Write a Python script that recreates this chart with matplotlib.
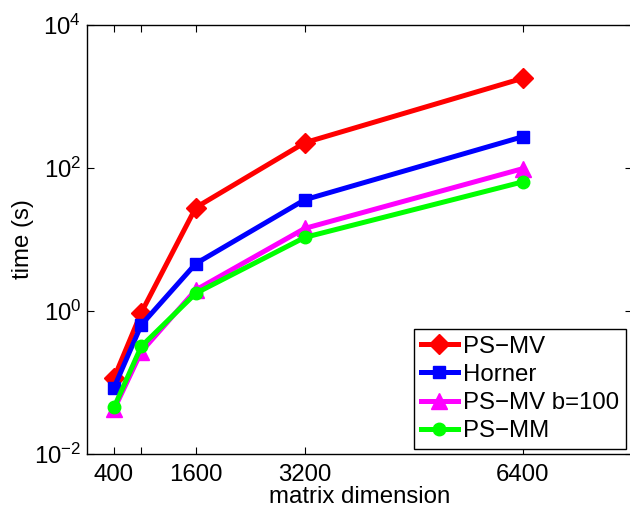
import matplotlib
matplotlib.use("Agg")
import matplotlib.pyplot as plt
from matplotlib.ticker import FixedLocator, FixedFormatter, NullLocator

plt.rcParams['font.family'] = ['Liberation Sans', 'DejaVu Sans']
plt.rcParams['mathtext.fontset'] = 'custom'
plt.rcParams['mathtext.rm'] = 'Liberation Sans'
plt.rcParams['mathtext.it'] = 'Liberation Sans'
plt.rcParams['mathtext.default'] = 'regular'

# Data
sizes = [400, 800, 1600, 3200, 6400]
ps_mv = [0.116, 0.95, 28, 226, 1800]
horner = [0.085, 0.64, 4.6, 36, 274]
ps_mv_b100 = [0.042, 0.27, 1.97, 14.3, 98]
ps_mm = [0.045, 0.32, 1.77, 10.7, 64]

series_labels = ['PS\u2212MV', 'Horner', 'PS\u2212MV b=100', 'PS\u2212MM']
xtick_vals = [400, 800, 1600, 3200, 6400]
xtick_labels = ['400', '', '1600', '3200', '6400']
ytick_vals = [1e-2, 1e0, 1e2, 1e4]
ytick_labels = ['$10^{\u22122}$', '$10^{0}$', '$10^{2}$', '$10^{4}$']

fig = plt.figure(figsize=(6.30, 5.07), dpi=100)
ax = fig.add_axes([86.8/630, 1-454/507, (631.8-86.8)/630, (454-25)/507])

lw = 3.6
ax.plot(sizes, ps_mv, color='#ff0000', lw=lw, marker='D', ms=10, mec='#ff0000', mfc='#ff0000', label=series_labels[0])
ax.plot(sizes, horner, color='#0000ff', lw=lw, marker='s', ms=8, mec='#0000ff', mfc='#0000ff', label=series_labels[1])
ax.plot(sizes, ps_mv_b100, color='#ff00ff', lw=lw, marker='^', ms=11, mec='#ff00ff', mfc='#ff00ff', label=series_labels[2])
ax.plot(sizes, ps_mm, color='#00ff00', lw=lw, marker='o', ms=9, mec='#00ff00', mfc='#00ff00', label=series_labels[3])

ax.set_yscale('log')
ax.set_xlim(0, 8000)
ax.set_ylim(1e-2, 1e4)
ax.xaxis.set_major_locator(FixedLocator(xtick_vals))
ax.xaxis.set_major_formatter(FixedFormatter(xtick_labels))
ax.yaxis.set_major_locator(FixedLocator(ytick_vals))
ax.yaxis.set_major_formatter(FixedFormatter(ytick_labels))
ax.yaxis.set_minor_locator(NullLocator())
ax.xaxis.set_minor_locator(NullLocator())

fs = 17.3
ax.tick_params(which='both', direction='in', top=True, right=True, length=5, width=0.8,
               labelsize=fs)
ax.tick_params(axis='x', pad=7)
ax.tick_params(axis='y', pad=4)
for sp in ax.spines.values():
    sp.set_linewidth(1.0)

ax.set_xlabel('matrix dimension', fontsize=fs, labelpad=0)
ax.set_ylabel('time (s)', fontsize=fs, labelpad=0)

leg = ax.legend(loc='lower right', bbox_to_anchor=(625.7/630, 1-449/507),
                bbox_transform=fig.transFigure, borderaxespad=0,
                fontsize=fs, frameon=True, fancybox=False, framealpha=1,
                edgecolor='black', handlelength=1.55, handletextpad=0.2,
                labelspacing=0.26, borderpad=0.28, markerscale=1.0)
leg.get_frame().set_linewidth(1.0)

fig.savefig('out.png', dpi=100)
